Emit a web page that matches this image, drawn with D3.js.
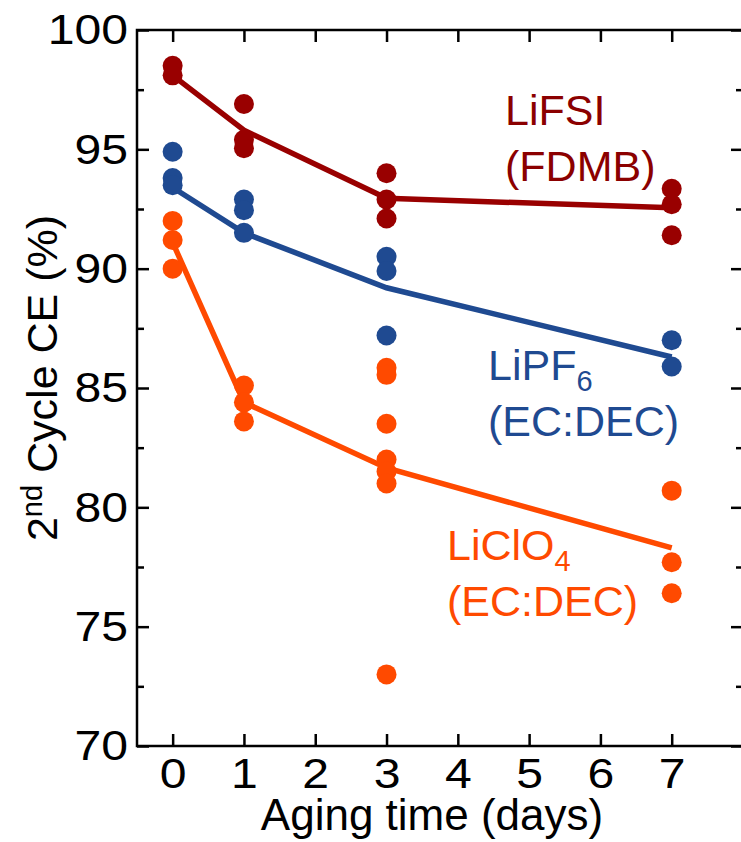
<!DOCTYPE html>
<html>
<head>
<meta charset="utf-8">
<script src="https://cdn.jsdelivr.net/npm/d3@7"></script>
<style>
  body { margin: 0; background: #fff; }
  text { font-family: "Liberation Sans", Arial, Helvetica, sans-serif; }
</style>
</head>
<body>
<div id="chart"></div>
<script>
// aging days where the fitted line is drawn
const days = [0, 1, 3, 7];

// individual cells: [day, CE %]
const lifsiPts = [[0, 98.5], [0, 98.1], [1, 96.9], [1, 95.4], [1, 95.05], [3, 94.0], [3, 92.9], [3, 92.1], [7, 93.35], [7, 92.7], [7, 91.4]];
const lipf6Pts = [[0, 94.9], [0, 93.8], [0, 93.5], [1, 92.9], [1, 92.45], [1, 91.5], [3, 90.5], [3, 89.9], [3, 87.2], [7, 87.0], [7, 85.9]];
const liclo4Pts = [[0, 92.0], [0, 91.2], [0, 90.0], [1, 85.1], [1, 84.4], [1, 83.6], [3, 85.85], [3, 85.55], [3, 83.5], [3, 82.0], [3, 81.5], [3, 81.0], [3, 73.0], [7, 80.7], [7, 77.7], [7, 76.4]];

// averages (lines)
const lifsiMean = [98.1, 95.8, 92.95, 92.55];
const lipf6Mean = [93.4, 91.5, 89.2, 86.3];
const liclo4Mean = [91.1, 84.4, 81.65, 78.3];

const xTicks = [0, 1, 2, 3, 4, 5, 6, 7];
const yTicks = [70, 75, 80, 85, 90, 95, 100];
const yMinor = [72.5, 77.5, 82.5, 87.5, 92.5, 97.5];

const series = [
    { pts: liclo4Pts, mean: liclo4Mean, color: '#ff4a00' },
    { pts: lipf6Pts, mean: lipf6Mean, color: '#1f4a91' },
    { pts: lifsiPts, mean: lifsiMean, color: '#990000' }
];

const W = 741, H = 842;
const mLeft = 137, mRight = 743, mTop = 30, mBottom = 746;

const svg = d3.select('#chart')
    .append('svg')
    .attr('width', W)
    .attr('height', H);

const x = d3.scaleLinear()
    .domain([-0.5, 8])
    .range([mLeft, mRight]);

const y = d3.scaleLinear()
    .domain([70, 100])
    .range([mBottom, mTop]);

// widen glyphs a bit (the original font is broader than Arial)
function stretch(sel, k) {
    sel.each(function () {
        const w = this.getComputedTextLength();
        d3.select(this)
            .attr('textLength', w * k)
            .attr('lengthAdjust', 'spacingAndGlyphs');
    });
}

// axes, ticks pointing inward
svg.append('g')
    .attr('class', 'lab')
    .attr('transform', `translate(${mLeft},0)`)
    .call(d3.axisLeft(y).tickValues(yTicks).tickSize(-12).tickPadding(9))
    .call(g => g.select('.domain').remove());
svg.append('g')
    .attr('transform', `translate(${mLeft},0)`)
    .call(d3.axisLeft(y).tickValues(yMinor).tickSize(-7).tickFormat(''))
    .call(g => g.select('.domain').remove());
svg.append('g')
    .attr('transform', `translate(${mRight},0)`)
    .call(d3.axisRight(y).tickValues(yTicks).tickSize(-12).tickFormat(''))
    .call(g => g.select('.domain').remove());
svg.append('g')
    .attr('transform', `translate(${mRight},0)`)
    .call(d3.axisRight(y).tickValues(yMinor).tickSize(-7).tickFormat(''))
    .call(g => g.select('.domain').remove());
svg.append('g')
    .attr('class', 'lab')
    .attr('transform', `translate(0,${mBottom})`)
    .call(d3.axisBottom(x).tickValues(xTicks).tickSize(-12).tickPadding(11))
    .call(g => g.select('.domain').remove());
svg.append('g')
    .attr('transform', `translate(0,${mTop})`)
    .call(d3.axisTop(x).tickValues(xTicks).tickSize(-12).tickFormat(''))
    .call(g => g.select('.domain').remove());

svg.selectAll('.tick line').attr('stroke', '#000').attr('stroke-width', 2.5);
svg.selectAll('.lab .tick text')
    .attr('fill', '#000')
    .style('font-size', '43px')
    .call(stretch, 1.12);

svg.append('rect')
    .attr('x', mLeft)
    .attr('y', mTop)
    .attr('width', mRight - mLeft)
    .attr('height', mBottom - mTop)
    .attr('fill', 'none')
    .attr('stroke', '#000')
    .attr('stroke-width', 2.5);

// lines
const line = d3.line()
    .x((d, i) => x(days[i]))
    .y(d => y(d));

series.forEach(s => {
    svg.append('path')
        .datum(s.mean)
        .attr('d', line)
        .attr('fill', 'none')
        .attr('stroke', s.color)
        .attr('stroke-width', 5.5);
});

series.forEach(s => {
    svg.append('g')
        .selectAll('circle')
        .data(s.pts)
        .enter()
        .append('circle')
        .attr('cx', d => x(d[0]))
        .attr('cy', d => y(d[1]))
        .attr('r', 10)
        .attr('fill', s.color);
});

// labels
function label(xp, yp, color, main, sub, second) {
    const t = svg.append('text')
        .attr('x', xp)
        .attr('y', yp)
        .attr('fill', color)
        .style('font-size', '43px');
    t.append('tspan').text(main);
    if (sub) {
        t.append('tspan')
            .attr('dy', 11)
            .style('font-size', '29px')
            .text(sub);
    }
    svg.append('text')
        .attr('x', xp)
        .attr('y', yp + 56)
        .attr('fill', color)
        .style('font-size', '43px')
        .text(second);
}
label(505, 125, '#8b0000', 'LiFSI', null, '(FDMB)');
label(488, 380, '#1f4a91', 'LiPF', '6', '(EC:DEC)');
label(447, 560, '#ff4a00', 'LiClO', '4', '(EC:DEC)');

// axis titles
svg.append('text')
    .attr('x', 432)
    .attr('y', 830)
    .attr('text-anchor', 'middle')
    .style('font-size', '44px')
    .text('Aging time (days)');

const yt = svg.append('text')
    .attr('transform', 'translate(57,378) rotate(-90)')
    .attr('text-anchor', 'middle')
    .style('font-size', '43px');
yt.append('tspan').text('2');
yt.append('tspan').attr('dy', -15).style('font-size', '29px').text('nd');
yt.append('tspan').attr('dy', 15).text(' Cycle CE (%)');
</script>
</body>
</html>
